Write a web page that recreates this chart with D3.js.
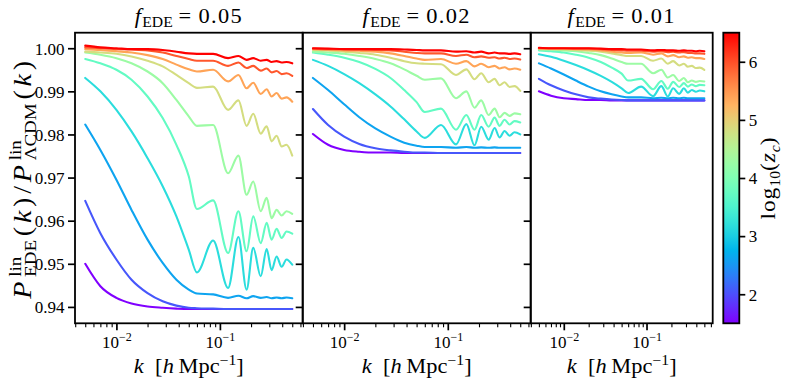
<!DOCTYPE html>
<html><head><meta charset="utf-8">
<script src="https://cdn.jsdelivr.net/npm/d3@7/dist/d3.min.js"></script>
<style>
html,body{margin:0;padding:0;background:#fff;}
svg{display:block;}
svg text{font-family:"Liberation Serif",serif !important;font-weight:normal;fill:#000;}
</style></head><body>
<svg id="chart" width="789" height="385"></svg>
<script>
// ---------------- data ----------------
const kValues = [0.005, 0.007, 0.01, 0.014, 0.02, 0.028, 0.038, 0.05, 0.06, 0.086, 0.12, 0.151, 0.181, 0.21, 0.248, 0.283, 0.316, 0.353, 0.395, 0.44, 0.5];
const log10Zc = [1.5, 2.056, 2.611, 3.167, 3.722, 4.278, 4.833, 5.389, 5.944, 6.5];
const fEDELabels = ["0.05", "0.02", "0.01"];

const ratioF005 = [
  [0.9500,0.9448,0.9421,0.9408,0.9401,0.9398,0.9396,0.9395,0.9395,0.9395,0.9395,0.9395,0.9395,0.9395,0.9395,0.9395,0.9395,0.9395,0.9395,0.9395,0.9395],
  [0.9646,0.9571,0.9510,0.9463,0.9432,0.9413,0.9403,0.9398,0.9397,0.9396,0.9395,0.9395,0.9395,0.9395,0.9395,0.9395,0.9395,0.9395,0.9395,0.9395,0.9395],
  [0.9823,0.9764,0.9695,0.9625,0.9556,0.9502,0.9463,0.9440,0.9431,0.9429,0.9421,0.9426,0.9420,0.9425,0.9421,0.9423,0.9420,0.9422,0.9420,0.9422,0.9420],
  [0.9931,0.9900,0.9857,0.9807,0.9745,0.9680,0.9610,0.9533,0.9480,0.9554,0.9444,0.9562,0.9440,0.9537,0.9471,0.9534,0.9485,0.9517,0.9493,0.9510,0.9498],
  [0.9975,0.9965,0.9950,0.9927,0.9888,0.9838,0.9776,0.9703,0.9627,0.9647,0.9525,0.9622,0.9529,0.9610,0.9548,0.9595,0.9556,0.9581,0.9560,0.9575,0.9570],
  [0.9990,0.9985,0.9977,0.9965,0.9946,0.9919,0.9880,0.9842,0.9820,0.9822,0.9710,0.9751,0.9660,0.9691,0.9622,0.9653,0.9606,0.9625,0.9612,0.9622,0.9616],
  [0.9992,0.9990,0.9987,0.9981,0.9971,0.9958,0.9938,0.9919,0.9908,0.9911,0.9857,0.9879,0.9820,0.9848,0.9802,0.9819,0.9784,0.9797,0.9772,0.9776,0.9751],
  [0.9998,0.9996,0.9993,0.9990,0.9984,0.9975,0.9962,0.9951,0.9946,0.9950,0.9923,0.9938,0.9907,0.9920,0.9894,0.9905,0.9888,0.9896,0.9883,0.9886,0.9876],
  [1.0002,1.0000,0.9998,0.9997,0.9995,0.9990,0.9982,0.9975,0.9971,0.9971,0.9959,0.9967,0.9954,0.9959,0.9948,0.9953,0.9944,0.9947,0.9940,0.9942,0.9936],
  [1.0006,1.0002,1.0000,0.9998,0.9998,0.9996,0.9992,0.9988,0.9987,0.9987,0.9977,0.9982,0.9973,0.9977,0.9971,0.9973,0.9968,0.9970,0.9967,0.9968,0.9965]
];
const ratioF002 = [
  [0.9801,0.9776,0.9764,0.9760,0.9758,0.9758,0.9757,0.9757,0.9757,0.9757,0.9757,0.9757,0.9757,0.9757,0.9757,0.9757,0.9757,0.9757,0.9757,0.9757,0.9757],
  [0.9859,0.9822,0.9795,0.9778,0.9768,0.9763,0.9760,0.9758,0.9758,0.9757,0.9757,0.9757,0.9757,0.9757,0.9757,0.9757,0.9757,0.9757,0.9757,0.9757,0.9757],
  [0.9931,0.9903,0.9870,0.9840,0.9814,0.9795,0.9781,0.9774,0.9771,0.9771,0.9769,0.9771,0.9769,0.9770,0.9769,0.9770,0.9769,0.9769,0.9769,0.9769,0.9769],
  [0.9973,0.9959,0.9940,0.9919,0.9893,0.9865,0.9835,0.9807,0.9792,0.9822,0.9777,0.9824,0.9775,0.9818,0.9788,0.9815,0.9793,0.9808,0.9797,0.9805,0.9800],
  [0.9990,0.9985,0.9978,0.9968,0.9952,0.9931,0.9903,0.9875,0.9852,0.9860,0.9811,0.9845,0.9811,0.9845,0.9818,0.9839,0.9820,0.9834,0.9823,0.9831,0.9828],
  [0.9992,0.9990,0.9987,0.9982,0.9975,0.9965,0.9951,0.9936,0.9927,0.9930,0.9884,0.9900,0.9862,0.9879,0.9845,0.9860,0.9840,0.9850,0.9843,0.9849,0.9847],
  [0.9996,0.9995,0.9992,0.9989,0.9985,0.9978,0.9970,0.9965,0.9964,0.9963,0.9938,0.9951,0.9928,0.9942,0.9921,0.9929,0.9914,0.9921,0.9910,0.9912,0.9901],
  [0.9998,0.9997,0.9995,0.9994,0.9992,0.9988,0.9982,0.9976,0.9973,0.9975,0.9964,0.9970,0.9958,0.9964,0.9956,0.9959,0.9953,0.9956,0.9951,0.9953,0.9950],
  [0.9999,0.9998,0.9998,0.9997,0.9996,0.9995,0.9992,0.9989,0.9988,0.9988,0.9982,0.9985,0.9979,0.9981,0.9978,0.9979,0.9976,0.9978,0.9975,0.9976,0.9974],
  [1.0000,0.9999,0.9998,0.9998,0.9998,0.9998,0.9997,0.9996,0.9995,0.9995,0.9992,0.9993,0.9990,0.9992,0.9988,0.9990,0.9988,0.9988,0.9987,0.9988,0.9986]
];
const ratioF001 = [
  [0.9900,0.9890,0.9884,0.9882,0.9880,0.9880,0.9879,0.9879,0.9879,0.9879,0.9879,0.9879,0.9879,0.9879,0.9879,0.9879,0.9879,0.9879,0.9879,0.9879,0.9879],
  [0.9929,0.9914,0.9902,0.9893,0.9886,0.9883,0.9881,0.9880,0.9879,0.9879,0.9879,0.9879,0.9879,0.9879,0.9879,0.9879,0.9879,0.9879,0.9879,0.9879,0.9879],
  [0.9965,0.9953,0.9939,0.9925,0.9911,0.9900,0.9893,0.9888,0.9886,0.9886,0.9884,0.9885,0.9884,0.9885,0.9884,0.9885,0.9884,0.9884,0.9884,0.9884,0.9884],
  [0.9986,0.9980,0.9971,0.9961,0.9949,0.9936,0.9922,0.9907,0.9896,0.9911,0.9889,0.9912,0.9888,0.9907,0.9894,0.9907,0.9897,0.9903,0.9899,0.9902,0.9900],
  [0.9995,0.9993,0.9990,0.9985,0.9978,0.9968,0.9955,0.9941,0.9925,0.9929,0.9905,0.9924,0.9906,0.9922,0.9910,0.9919,0.9911,0.9916,0.9912,0.9915,0.9914],
  [0.9998,0.9997,0.9995,0.9993,0.9989,0.9984,0.9976,0.9968,0.9964,0.9964,0.9942,0.9950,0.9932,0.9938,0.9924,0.9931,0.9921,0.9925,0.9922,0.9924,0.9923],
  [0.9998,0.9998,0.9997,0.9996,0.9994,0.9992,0.9988,0.9984,0.9982,0.9982,0.9971,0.9976,0.9964,0.9970,0.9960,0.9964,0.9957,0.9959,0.9954,0.9955,0.9950],
  [1.0000,0.9999,0.9999,0.9998,0.9997,0.9995,0.9992,0.9990,0.9989,0.9990,0.9985,0.9988,0.9981,0.9984,0.9979,0.9981,0.9978,0.9979,0.9977,0.9977,0.9975],
  [1.0000,1.0000,1.0000,0.9999,0.9999,0.9998,0.9996,0.9995,0.9994,0.9994,0.9992,0.9993,0.9991,0.9992,0.9990,0.9991,0.9989,0.9989,0.9988,0.9988,0.9987],
  [1.0001,1.0000,1.0000,1.0000,1.0000,0.9999,0.9998,0.9998,0.9997,0.9997,0.9995,0.9996,0.9995,0.9995,0.9994,0.9995,0.9994,0.9994,0.9993,0.9994,0.9993]
];
const panelSeries = [ratioF005, ratioF002, ratioF001];

const yTickValues = [0.94, 0.95, 0.96, 0.97, 0.98, 0.99, 1.00];
const xMajorTicks = [0.01, 0.1];
const xTickExponents = ["\u22122", "\u22121"];
const colorbarTicks = [2, 3, 4, 5, 6];

// ---------------- layout ----------------
const svg = d3.select('#chart');
const panelX = [[75, 302.7], [302.7, 530.7], [530.7, 712.7]];
const yTop = 32.7, yBot = 323.3;
const xDomain = [Math.pow(10, -2.4), Math.pow(10, -0.2)];
const y = d3.scaleLinear().domain([0.9362, 1.0036]).range([yBot, yTop]);
const cbar = {x0: 723.3, x1: 739.3};
const cNorm = d3.scaleLinear().domain([1.5, 6.5]).range([0, 1]);

function rainbow(t) {
  const r = Math.min(1, Math.abs(2 * t - 0.5));
  const g = Math.sin(Math.PI * t);
  const b = Math.cos(Math.PI * t / 2);
  return d3.rgb(r * 255, g * 255, b * 255).formatHex();
}

const defs = svg.append('defs');

function textWidth(str, fs) {
  const tmp = svg.append('text').attr('font-size', fs).text(str);
  const w = tmp.node().getComputedTextLength();
  tmp.remove();
  return w;
}
// Lay out a text to a target length: mild glyph stretch, remainder as letter spacing on main-size glyphs
function fittedText(transformPrefix, build, targetW, nMainChars, maxStretch) {
  const g = svg.append('g');
  let t = g.append('text').attr('text-anchor', 'middle');
  build(t, 0);
  const w = t.node().getBBox().width;
  const s = Math.min(targetW / w, maxStretch || 1.12);
  const ls = Math.max(0, (targetW / s - w) / nMainChars);
  t.remove();
  t = g.append('text').attr('text-anchor', 'middle');
  build(t, ls);
  g.attr('transform', transformPrefix + ` scale(${s},1)`);
  return g;
}
function mainSpan(t, str, ls, italic) {
  const sp = t.append('tspan').text(str).style('letter-spacing', ls + 'px');
  if (italic) sp.attr('font-style', 'italic');
  return sp;
}

panelSeries.forEach((series, pi) => {
  const [x0, x1] = panelX[pi];
  const x = d3.scaleLog().domain(xDomain).range([x0, x1]);
  const clipId = 'clip' + pi;
  defs.append('clipPath').attr('id', clipId).append('rect')
    .attr('x', x0).attr('y', yTop).attr('width', x1 - x0).attr('height', yBot - yTop);

  const g = svg.append('g');
  const line = d3.line().x((d, j) => x(kValues[j])).y(d => y(d)).curve(d3.curveMonotoneX);
  const lines = g.append('g').attr('clip-path', `url(#${clipId})`);
  series.forEach((s, ci) => {
    lines.append('path').attr('d', line(s))
      .attr('fill', 'none')
      .attr('stroke', rainbow(cNorm(log10Zc[ci])))
      .attr('stroke-width', 2.1)
      .attr('stroke-linejoin', 'round').attr('stroke-linecap', 'round');
  });

  // x axis minor ticks
  const minor = x.ticks().filter(v => !xMajorTicks.some(m => Math.abs(m - v) / m < 1e-6));
  const axMinor = g.append('g').attr('transform', `translate(0,${yBot})`)
    .call(d3.axisBottom(x).tickValues(minor).tickSize(4).tickSizeOuter(0).tickFormat(() => ''));
  axMinor.select('.domain').remove();
  axMinor.selectAll('.tick line').attr('stroke', '#000').attr('stroke-width', 1.1);

  // x axis major ticks + labels
  const axMajor = g.append('g').attr('transform', `translate(0,${yBot})`)
    .call(d3.axisBottom(x).tickValues(xMajorTicks).tickSize(7).tickSizeOuter(0).tickFormat(() => ''));
  axMajor.select('.domain').remove();
  axMajor.selectAll('.tick line').attr('stroke', '#000').attr('stroke-width', 1.7);
  axMajor.selectAll('.tick text').each(function (d, i) {
    const t = d3.select(this);
    t.text(null).attr('y', 24.5).attr('dy', null).attr('font-size', 17).attr('fill', '#000');
    t.append('tspan').text('10');
    t.append('tspan').attr('dy', -7).attr('font-size', 12).text(xTickExponents[i]);
  });

  // y axis
  const ay = g.append('g').attr('transform', `translate(${x0},0)`)
    .call(d3.axisLeft(y).tickValues(yTickValues).tickSize(7).tickSizeOuter(0).tickPadding(3.5)
      .tickFormat(pi === 0 ? d3.format('.2f') : () => ''));
  ay.select('.domain').remove();
  ay.selectAll('.tick line').attr('stroke', '#000').attr('stroke-width', 1.7);
  ay.selectAll('.tick text').attr('font-size', 17).attr('fill', '#000').attr('dy', '0.34em');

  // spines
  g.append('rect').attr('x', x0).attr('y', yTop).attr('width', x1 - x0).attr('height', yBot - yTop)
    .attr('fill', 'none').attr('stroke', '#000').attr('stroke-width', 1.8);

  const cx = (x0 + x1) / 2;
  // title
  fittedText(`translate(${cx},23)`, (t, ls) => {
    t.attr('font-size', 20);
    mainSpan(t, 'f', ls, true);
    t.append('tspan').attr('font-size', 14).attr('dy', 4).text('EDE');
    mainSpan(t, '\u2009=\u2009' + fEDELabels[pi], ls).attr('dy', -4);
  }, 107, 7);
  // x label
  fittedText(`translate(${cx},373)`, (t, ls) => {
    t.attr('font-size', 20);
    mainSpan(t, 'k', ls, true);
    mainSpan(t, '\u2002[', ls);
    mainSpan(t, 'h', ls, true);
    mainSpan(t, '\u2009Mpc', ls);
    t.append('tspan').attr('font-size', 14).attr('dy', -8).text('\u22121');
    mainSpan(t, ']', ls).attr('dy', 8);
  }, 110, 8);
});

// y label
fittedText(`translate(31,${(yTop + yBot) / 2}) rotate(-90)`, (t, ls) => {
  const fs = 25, ss = 17;
  t.attr('font-size', fs);
  const wLin = textWidth('lin', ss);
  mainSpan(t, 'P', ls, true);
  t.append('tspan').attr('font-size', ss).attr('dy', -10).attr('dx', 1).text('lin');
  t.append('tspan').attr('font-size', ss).attr('dy', 15).attr('dx', -wLin).text('EDE');
  mainSpan(t, '(', ls).attr('dy', -5).attr('dx', ls);
  mainSpan(t, 'k', ls, true);
  mainSpan(t, ')/', ls);
  mainSpan(t, 'P', ls, true);
  t.append('tspan').attr('font-size', ss).attr('dy', -10).attr('dx', 1).text('lin');
  t.append('tspan').attr('font-size', ss).attr('dy', 15).attr('dx', -wLin).text('\u039BCDM');
  mainSpan(t, '(', ls).attr('dy', -5).attr('dx', ls);
  mainSpan(t, 'k', ls, true);
  mainSpan(t, ')', ls);
}, 243, 11);

// colorbar
const grad = defs.append('linearGradient').attr('id', 'cbgrad')
  .attr('x1', 0).attr('y1', 1).attr('x2', 0).attr('y2', 0);
d3.range(0, 1.0001, 0.05).forEach(t => {
  grad.append('stop').attr('offset', t).attr('stop-color', rainbow(t));
});
const cy = d3.scaleLinear().domain([1.5, 6.5]).range([yBot, yTop]);
svg.append('rect').attr('x', cbar.x0).attr('y', yTop).attr('width', cbar.x1 - cbar.x0).attr('height', yBot - yTop)
  .attr('fill', 'url(#cbgrad)').attr('stroke', '#000').attr('stroke-width', 1.8);
const acb = svg.append('g').attr('transform', `translate(${cbar.x1},0)`)
  .call(d3.axisRight(cy).tickValues(colorbarTicks).tickSize(6).tickSizeOuter(0).tickPadding(3.5).tickFormat(d3.format('d')));
acb.select('.domain').remove();
acb.selectAll('.tick line').attr('stroke', '#000').attr('stroke-width', 1.7);
acb.selectAll('.tick text').attr('font-size', 17).attr('fill', '#000').attr('dy', '0.34em');

fittedText(`translate(775,${(yTop + yBot) / 2}) rotate(-90)`, (t, ls) => {
  t.attr('font-size', 21);
  mainSpan(t, 'log', ls);
  t.append('tspan').attr('font-size', 14).attr('dy', 5).text('10');
  mainSpan(t, '(', ls).attr('dy', -5);
  mainSpan(t, 'z', ls, true);
  t.append('tspan').attr('font-style', 'italic').attr('font-size', 14).attr('dy', 5).text('c');
  mainSpan(t, ')', ls).attr('dy', -5);
}, 83, 6);
</script>
</body></html>
